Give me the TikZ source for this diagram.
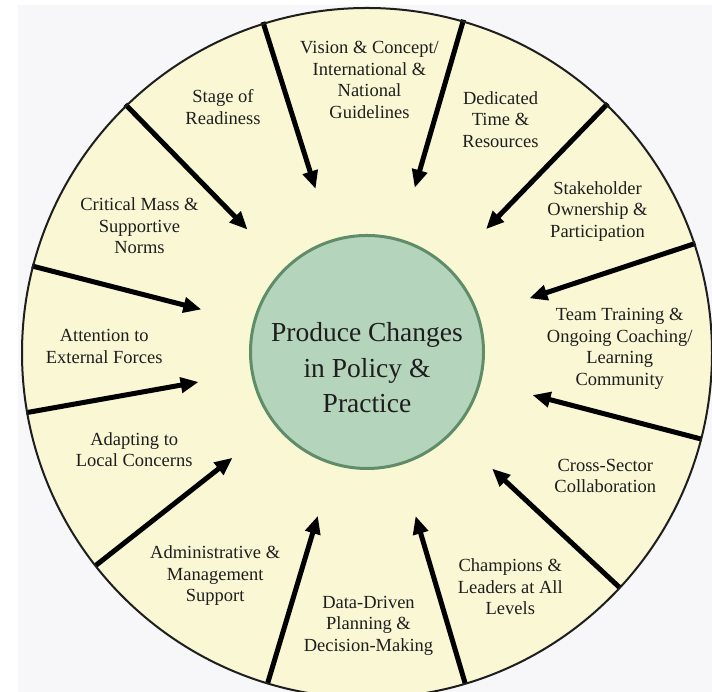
\documentclass[tikz,border=0pt]{standalone}
\usepackage{fontspec}
\setmainfont{Liberation Serif}
\usetikzlibrary{arrows.meta}
\definecolor{bgray}{HTML}{F7F7F9}
\definecolor{paleyel}{HTML}{FAF7D4}
\definecolor{sage}{HTML}{B5D4BC}
\definecolor{sagedark}{HTML}{5F8C69}
\definecolor{ink}{HTML}{1E1E1E}
\begin{document}
\begin{tikzpicture}[x=1pt,y=1pt,
  lbl/.style={font=\fontsize{18.5}{21.5}\selectfont, text=ink, align=center, inner sep=0pt},
  biglbl/.style={font=\fontsize{27.5}{35.5}\selectfont, text=ink, align=center, inner sep=0pt},
  arr/.style={line width=5pt, draw=black, -{Triangle[length=18pt,width=15pt]}},
  rimline/.style={draw=ink, line width=2pt},
  corecircle/.style={circle, minimum size=233pt, inner sep=0pt, fill=sage, draw=sagedark, line width=3pt}]
\useasboundingbox (0,0) rectangle (712,692);
\fill[white] (0,0) rectangle (712,692);
\fill[bgray] (18,0) rectangle (712,687);
\coordinate (C) at (367,340);
\coordinate (O) at (367,339);
\fill[paleyel] (O) circle (345);
% arrows
\foreach \i/\a in {1/107.5, 2/73.8, 3/45.9, 4/18.3, 5/-14.6, 6/-43.0, 7/-73.5, 8/-106.7, 9/218.2, 10/190.1, 11/165.6, 12/134.3}{
  \coordinate (s\i) at ([shift={(\a:346)}]C);
  \coordinate (e\i) at ([shift={(\a:171)}]C);
  \draw[arr] (s\i) -- (e\i);
}
\draw[rimline] (O) circle (345);
\node[corecircle] (core) at (367,340) {};
\node[biglbl] (coretext) at (367,324) {Produce Changes\\in Policy \&\\Practice};
% labels
\node[lbl] (stage) at (223,585) {Stage of\\Readiness};
\node[lbl] (vision) at (369.5,612) {Vision \& Concept/\\International \&\\National\\Guidelines};
\node[lbl] (dedicated) at (500.5,572.5) {Dedicated\\Time \&\\Resources};
\node[lbl] (stake) at (597.5,480.7) {Stakeholder\\Ownership \&\\Participation};
\node[lbl] (team) at (619.7,343) {Team Training \&\\Ongoing Coaching/\\Learning\\Community};
\node[lbl] (cross) at (605.3,216) {Cross-Sector\\Collaboration};
\node[lbl] (champ) at (510.3,105.2) {Champions \&\\Leaders at All\\Levels};
\node[lbl] (data) at (368.5,66.5) {Data-Driven\\Planning \&\\Decision-Making};
\node[lbl] (admin) at (215.2,116) {Administrative \&\\Management\\Support};
\node[lbl] (adapt) at (134.2,242.5) {Adapting to\\Local Concerns};
\node[lbl] (attn) at (104.2,345.3) {Attention to\\External Forces};
\node[lbl] (crit) at (139.5,466) {Critical Mass \&\\Supportive\\Norms};
\end{tikzpicture}
\end{document}
